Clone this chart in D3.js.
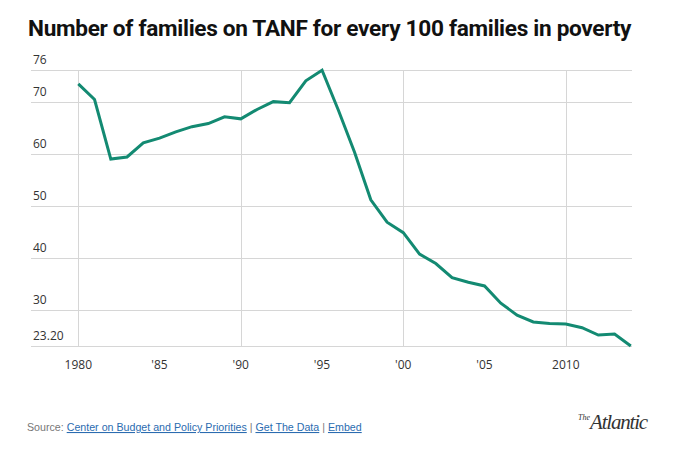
<!DOCTYPE html>
<html>
<head>
<meta charset="utf-8">
<script src="https://cdn.jsdelivr.net/npm/d3@7"></script>
<style>
  body { margin: 0; background: #fff; }
  svg { display: block; font-family: "Open Sans", "Liberation Sans", sans-serif; }
</style>
</head>
<body>
<div id="chart"></div>
<script>
// Values, one per year
const years = d3.range(1980, 2015);
const values = [
  73.4, 70.4, 59.0, 59.4, 62.1, 63.0, 64.2, 65.2, 65.8, 67.1,
  66.7, 68.5, 70.0, 69.8, 74.0, 76.0, 68.4, 60.3, 51.2, 46.9,
  44.9, 40.8, 39.0, 36.3, 35.4, 34.7, 31.4, 29.1, 27.8, 27.5,
  27.4, 26.7, 25.3, 25.5, 23.2
];
const yTicks = [23.2, 30, 40, 50, 60, 70, 76];
const xTicks = [1980, 1985, 1990, 1995, 2000, 2005, 2010];
const xGrid = [1980, 1990, 2000, 2010];
const xTickLabel = y => (y === 1980 || y === 2010) ? String(y) : "'" + String(y).slice(2);

const W = 682, H = 460;
const left = 31, right = 632;

const svg = d3.select("#chart").append("svg")
  .attr("width", W)
  .attr("height", H);

const x = d3.scaleLinear().domain([1980, 2014]).range([78.3, 630.8]);
const y = d3.scaleLinear().domain([23.2, 76]).range([346, 70.3]);

// title, squeezed to the width of the plot
const title = svg.append("text")
  .attr("x", 28)
  .attr("y", 36)
  .style("font-family", "Roboto, 'Liberation Sans', sans-serif")
  .style("font-weight", "700")
  .style("font-size", "22px")
  .style("letter-spacing", "-0.3px")
  .attr("fill", "#111")
  .text("Number of families on TANF for every 100 families in poverty");
const tw = title.node().getComputedTextLength();
title.style("font-size", (22 * 603 / tw) + "px");

// horizontal grid + labels
const yg = svg.append("g");
yg.selectAll("line")
  .data(yTicks)
  .join("line")
  .attr("x1", left)
  .attr("x2", right)
  .attr("y1", d => Math.round(y(d)) + 0.5)
  .attr("y2", d => Math.round(y(d)) + 0.5)
  .attr("stroke", "#d6d6d6")
  .attr("stroke-width", 1);
yg.selectAll("text")
  .data(yTicks)
  .join("text")
  .attr("x", 33)
  .attr("y", d => y(d) - 6)
  .attr("fill", "#333")
  .style("font-size", "12px")
  .text(d => d === 23.2 ? "23.20" : d);

// vertical grid
svg.append("g").selectAll("line")
  .data(xGrid)
  .join("line")
  .attr("x1", d => Math.round(x(d)) + 0.5)
  .attr("x2", d => Math.round(x(d)) + 0.5)
  .attr("y1", y(76))
  .attr("y2", y(23.2))
  .attr("stroke", "#d6d6d6")
  .attr("stroke-width", 1);

// x tick labels
svg.append("g").selectAll("text")
  .data(xTicks)
  .join("text")
  .attr("x", d => x(d))
  .attr("y", 369)
  .attr("text-anchor", "middle")
  .attr("fill", "#333")
  .style("font-size", "12px")
  .text(xTickLabel);

// the line
const line = d3.line()
  .x((d, i) => x(years[i]))
  .y(d => y(d));

svg.append("path")
  .datum(values)
  .attr("d", line)
  .attr("fill", "none")
  .attr("stroke", "#138a72")
  .attr("stroke-width", 3)
  .attr("stroke-linejoin", "miter");

// footer
const src = svg.append("text")
  .attr("x", 27)
  .attr("y", 431)
  .style("font-family", "'Liberation Sans', Arial, sans-serif")
  .style("font-size", "11px")
  .attr("fill", "#777");
src.append("tspan").text("Source: ");
src.append("tspan").attr("fill", "#2b6cb0").style("text-decoration", "underline")
  .text("Center on Budget and Policy Priorities");
src.append("tspan").text(" | ");
src.append("tspan").attr("fill", "#2b6cb0").style("text-decoration", "underline")
  .text("Get The Data");
src.append("tspan").text(" | ");
src.append("tspan").attr("fill", "#2b6cb0").style("text-decoration", "underline")
  .text("Embed");
const sw = src.node().getComputedTextLength();
src.style("font-size", (11 * 335 / sw) + "px");

// logo
const logo = svg.append("text")
  .attr("x", 647)
  .attr("y", 429)
  .attr("text-anchor", "end")
  .attr("fill", "#333")
  .style("font-family", "'Liberation Serif', 'DejaVu Serif', serif")
  .style("font-style", "italic");
logo.append("tspan").style("font-size", "8px").attr("dy", -9).text("The");
logo.append("tspan").style("font-size", "21px").attr("dy", 9).style("letter-spacing", "-1.2px").text("Atlantic");
</script>
</body>
</html>
